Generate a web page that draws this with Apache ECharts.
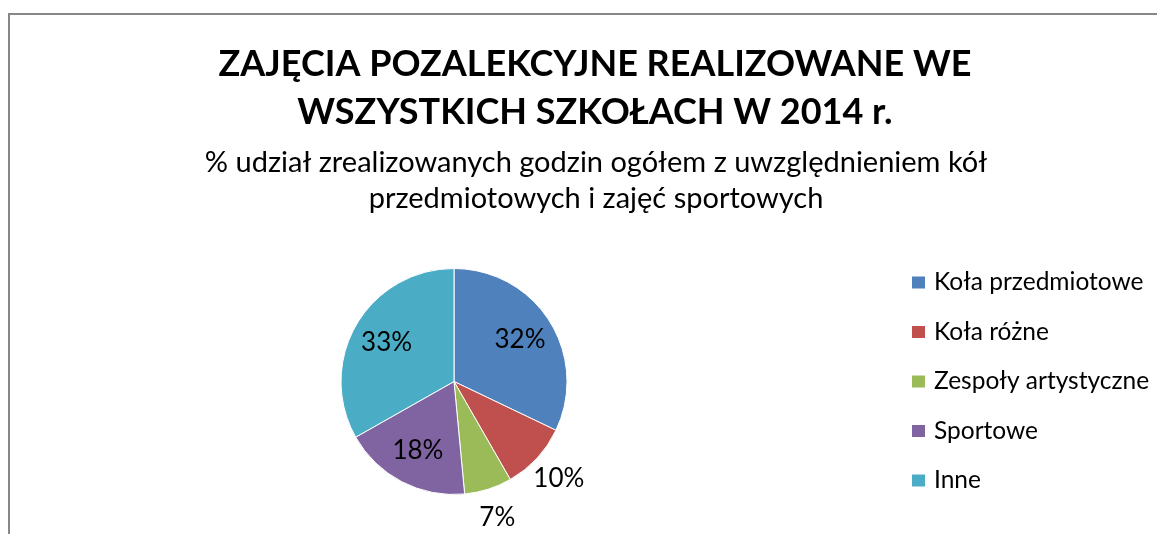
<!DOCTYPE html>
<html>
<head>
<meta charset="utf-8">
<script src="https://cdn.jsdelivr.net/npm/echarts@6/dist/echarts.min.js"></script>
<style>
html,body{margin:0;padding:0;background:#fff;}
#chart{width:1157px;height:534px;}
</style>
</head>
<body>
<div id="chart"></div>
<script>
const titleText = 'ZAJĘCIA POZALEKCYJNE REALIZOWANE WE\nWSZYSTKICH SZKOŁACH W 2014 r.';
const subtitleText = '% udział zrealizowanych godzin ogółem z uwzględnieniem kół\nprzedmiotowych i zajęć sportowych';
const categories = ['Koła przedmiotowe', 'Koła różne', 'Zespoły artystyczne', 'Sportowe', 'Inne'];
const values = [32.1, 9.6, 6.8, 18.3, 33.2];
const colors = ['#4F81BD', '#C0504D', '#9BBB59', '#8064A2', '#4BACC6'];
const outsideLabel = [false, true, true, false, false];

const FONT = 'Lato';
const pieData = categories.map((c, i) => ({ name: c, value: values[i], itemStyle: { color: colors[i] } }));
const fmt = p => Math.round(p.percent) + '%';
function labelFor(show) {
  return { show: show, position: 'inside', formatter: fmt, color: '#000', fontFamily: FONT, fontSize: 26, fontWeight: 'normal' };
}

const chart = echarts.init(document.getElementById('chart'), null, { renderer: 'canvas' });
chart.setOption({
  animation: false,
  backgroundColor: '#fff',
  graphic: [{
    type: 'rect', silent: true,
    shape: { x: 9, y: 14, width: 1400, height: 800 },
    style: { fill: 'none', stroke: '#878787', lineWidth: 2 }
  }],
  title: [{
    text: titleText, left: 590, top: 35, textAlign: 'center',
    textStyle: { fontFamily: FONT, fontWeight: 'bold', fontSize: 36, lineHeight: 48, color: '#000' }
  }, {
    text: subtitleText, left: 591, top: 140, textAlign: 'center',
    textStyle: { fontFamily: FONT, fontWeight: 'normal', fontSize: 29, lineHeight: 36, color: '#000' }
  }],
  legend: {
    orient: 'vertical', left: 910, top: 270, padding: 0,
    itemWidth: 15, itemHeight: 14, itemGap: 24.5, icon: 'rect',
    data: categories.map((c, i) => ({ name: c, itemStyle: { color: colors[i] } })),
    textStyle: { fontFamily: FONT, fontSize: 24.5, color: '#000', padding: [0, 0, 0, 3] },
    selectedMode: false
  },
  series: [{
    type: 'pie', center: [454, 381.5], radius: [0, 113], startAngle: 90, clockwise: true,
    data: pieData, label: { show: false }, labelLine: { show: false },
    itemStyle: { borderColor: '#fff', borderWidth: 1 }, silent: true
  }, {
    type: 'pie', center: [454, 381.5], radius: [0, 150], startAngle: 90, clockwise: true,
    data: categories.map((c, i) => ({ name: c, value: values[i], label: labelFor(!outsideLabel[i]) })),
    itemStyle: { color: 'rgba(0,0,0,0)' }, silent: true, legendHoverLink: false,
    label: labelFor(true), labelLine: { show: false }
  }, {
    type: 'pie', center: [454, 381.5], radius: [0, 280], startAngle: 90, clockwise: true,
    data: categories.map((c, i) => ({ name: c, value: values[i], label: labelFor(outsideLabel[i]) })),
    itemStyle: { color: 'rgba(0,0,0,0)' }, silent: true, legendHoverLink: false,
    label: labelFor(true), labelLine: { show: false }
  }]
});
</script>
</body>
</html>
